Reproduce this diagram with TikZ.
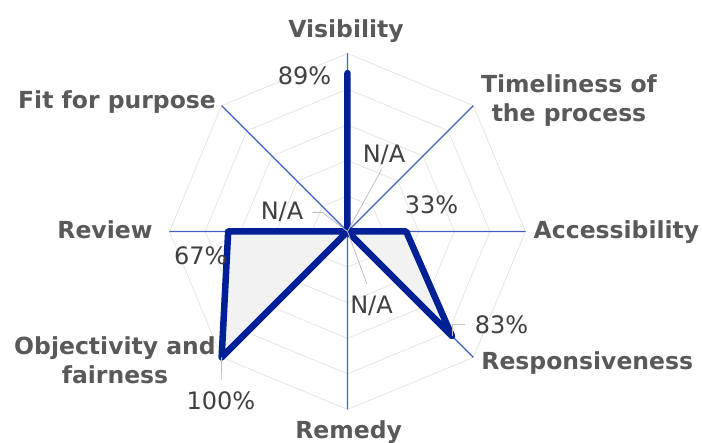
\documentclass[tikz,border=0pt]{standalone}
\usepackage{fontspec}
\setmainfont{DejaVu Sans}
\usepackage{tikz}
\usetikzlibrary{positioning}

\definecolor{seriesblue}{RGB}{0,32,150}
\definecolor{axisblue}{RGB}{68,94,196}
\definecolor{webgray}{RGB}{229,229,229}
\definecolor{labgray}{RGB}{89,89,89}
\definecolor{valgray}{RGB}{64,64,64}
\definecolor{leadgray}{RGB}{191,191,191}
\definecolor{areagray}{RGB}{242,242,242}

\begin{document}
\begin{tikzpicture}[x=1pt,y=1pt,
            axislab/.style={font=\fontsize{23.5}{29}\selectfont\bfseries,text=labgray,inner sep=0,align=center,anchor=base},
            val/.style={font=\fontsize{24}{28}\selectfont,text=valgray,inner sep=0,anchor=base},
            webline/.style={draw=webgray,line width=0.8pt},
            spoke/.style={draw=axisblue,line width=1.2pt},
            series/.style={draw=seriesblue,fill=areagray,line width=6.5pt,line join=round,line cap=round},
            leader/.style={draw=leadgray,line width=0.8pt}
          ]
          \useasboundingbox (-347.5,-211.5) rectangle (354.5,231.5);

          \coordinate (o) at (0,0);
          \coordinate (vis) at (90:178);
          \coordinate (time) at (45:178);
          \coordinate (acc) at (0:178);
          \coordinate (resp) at (-45:178);
          \coordinate (rem) at (-90:178);
          \coordinate (obj) at (-135:178);
          \coordinate (rev) at (180:178);
          \coordinate (fit) at (135:178);

          %web
          \foreach \r in {35.6,71.2,106.8,142.4,178}
            \path[webline] (90:\r) -- (45:\r) -- (0:\r) -- (-45:\r) -- (-90:\r)
              -- (-135:\r) -- (180:\r) -- (135:\r) -- cycle;

          %axes
          \path[spoke]
          (o) -- (vis)
          (o) -- (time)
          (o) -- (acc)
          (o) -- (resp)
          (o) -- (rem)
          (o) -- (obj)
          (o) -- (rev)
          (o) -- (fit)
          ;

          %data points
          \coordinate (pvis) at (90:158.4);
          \coordinate (pacc) at (0:58.7);
          \coordinate (presp) at (-45:147.7);
          \coordinate (pobj) at (-135:178);
          \coordinate (prev) at (180:119.3);
          \path[series] (o) -- (pvis) -- (o) -- (pacc) -- (presp) -- (o)
            -- (pobj) -- (prev) -- cycle;

          %axis labels
          \node[axislab] (lvis) at (-1.5,194.2) {Visibility};
          \node[axislab] (ltime) at (221.5,109.8) {Timeliness of\\the process};
          \node[axislab] (lacc) at (269,-6.8) {Accessibility};
          \node[axislab] (lresp) at (239.8,-138.5) {Responsiveness};
          \node[axislab] (lrem) at (1.2,-206.8) {Remedy};
          \node[axislab] (lobj) at (-232.5,-151.8) {Objectivity and\\fairness};
          \node[axislab] (lrev) at (-242.5,-6.8) {Review};
          \node[axislab] (lfit) at (-230.5,123.2) {Fit for purpose};

          %values
          \node[val] (v89) at (-43,146.5) {89\%};
          \node[val] (natime) at (36.5,68.8) {N/A};
          \node[val] (v33) at (84,18.2) {33\%};
          \node[val] (nafit) at (-65.5,11.5) {N/A};
          \node[val] (v67) at (-146.7,-33.5) {67\%};
          \node[val] (narem) at (24,-82.5) {N/A};
          \node[val] (v83) at (154,-101.8) {83\%};
          \node[val] (v100) at (-126.5,-178.5) {100\%};

          %leader lines
          \draw[leader,shorten <=5pt] (natime.south) -- (o);
          \draw[leader,shorten <=9pt] (nafit.east) -- ++(19,0) -- (o);
          \draw[leader,shorten <=13pt] (narem.north) -- (o);
          \draw[leader,shorten <=10pt] (v83.west) -| (presp);
          \draw[leader,shorten <=12pt] (v100.north) -- (pobj);
      \end{tikzpicture}
\end{document}
